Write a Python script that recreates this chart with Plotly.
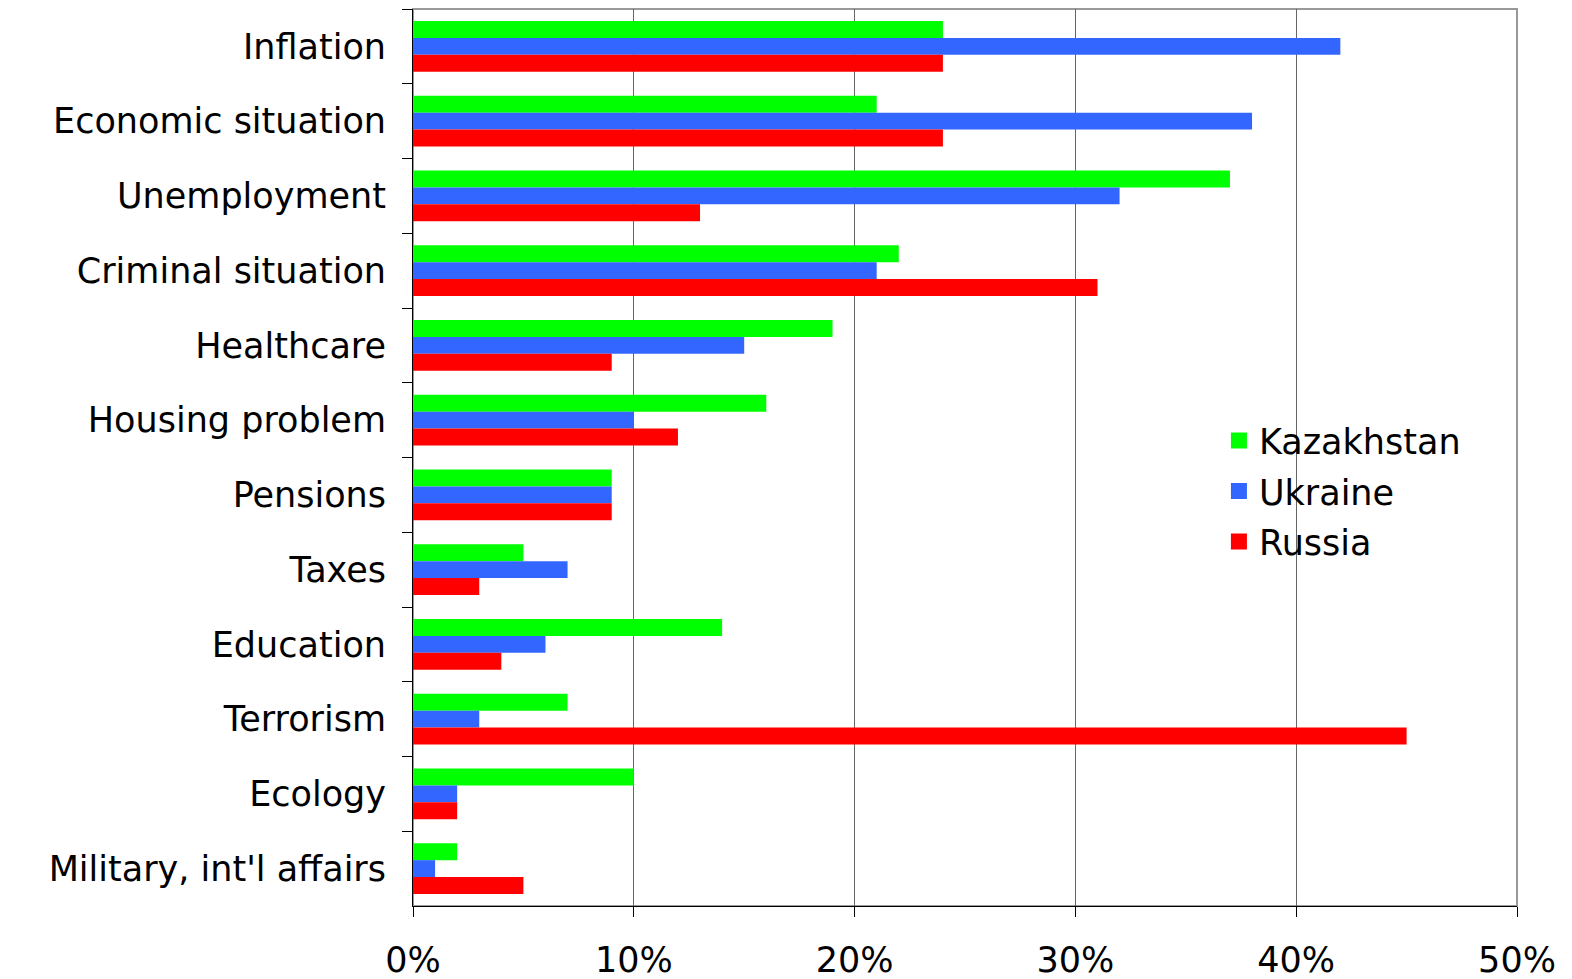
import plotly.graph_objects as go

categories = ["Inflation", "Economic situation", "Unemployment", "Criminal situation",
              "Healthcare", "Housing problem", "Pensions", "Taxes", "Education",
              "Terrorism", "Ecology", "Military, int'l affairs"]
kazakhstan = [24, 21, 37, 22, 19, 16, 9, 5, 14, 7, 10, 2]
ukraine = [42, 38, 32, 21, 15, 10, 9, 7, 6, 3, 2, 1]
russia = [24, 24, 13, 31, 9, 12, 9, 3, 4, 45, 2, 5]
x_ticks = [0, 10, 20, 30, 40, 50]
x_tick_labels = ["0%", "10%", "20%", "30%", "40%", "50%"]

series = [("Kazakhstan", kazakhstan, "#00FF00"),
          ("Ukraine", ukraine, "#3366FF"),
          ("Russia", russia, "#FF0000")]

fig = go.Figure()
for name, vals, col in series:
    fig.add_trace(go.Bar(y=categories, x=vals, name=name, orientation="h",
                         marker=dict(color=col, line=dict(width=0)),
                         showlegend=False, legendgroup=name))
# legend-only entries with larger square swatches
for name, vals, col in series:
    fig.add_trace(go.Scatter(x=[None], y=[None], mode="markers", name=name,
                             marker=dict(symbol="square", size=22, color=col),
                             legendgroup=name, showlegend=True))

font = "DejaVu Sans, Verdana, sans-serif"
fig.update_layout(
    width=1572, height=979,
    barmode="group", bargap=0.32, bargroupgap=0,
    plot_bgcolor="white", paper_bgcolor="white",
    margin=dict(l=413, r=55, t=9, b=73, autoexpand=False),
    font=dict(family=font, size=35, color="black"),
    xaxis=dict(range=[0, 50], tickvals=x_ticks, ticktext=x_tick_labels,
               showgrid=True, gridcolor="#666666", gridwidth=1,
               showline=True, linecolor="black", linewidth=1,
               ticks="outside", ticklen=10, tickcolor="black",
               zeroline=False, mirror=False, fixedrange=True,
               ticklabelstandoff=13, automargin=False),
    yaxis=dict(autorange="reversed", showline=True, linecolor="black", linewidth=1,
               ticks="outside", ticklen=10, tickcolor="black", tickson="boundaries",
               showgrid=False, ticklabelstandoff=19, automargin=False),
    legend=dict(x=0.73, y=0.4625, xanchor="left", yanchor="middle",
                bgcolor="rgba(0,0,0,0)", font=dict(size=35),
                itemwidth=30, tracegroupgap=2, traceorder="grouped",
                itemsizing="trace"),
    showlegend=True,
)
fig.add_shape(type="rect", xref="paper", yref="paper", x0=0, x1=1, y0=0, y1=1,
              line=dict(color="#999999", width=2), layer="below")
fig.write_html("out.html")
